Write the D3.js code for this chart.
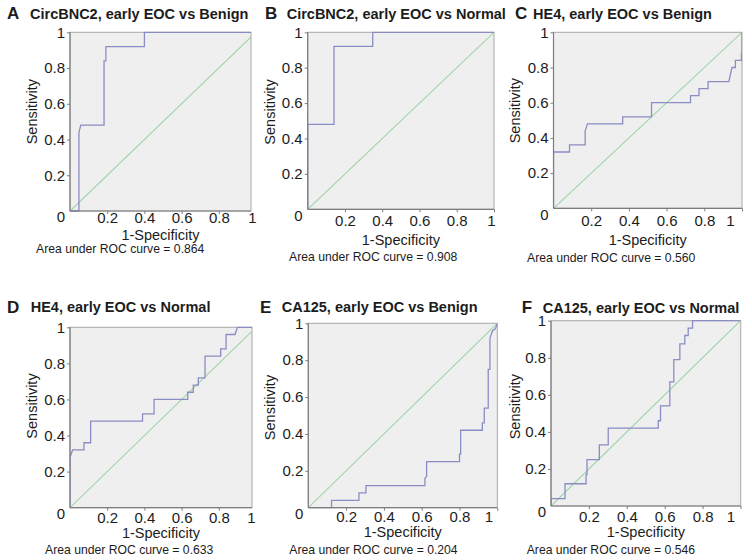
<!DOCTYPE html>
<html><head><meta charset="utf-8">
<script src="https://cdn.jsdelivr.net/npm/d3@7"></script>
<style>
body{margin:0;background:#fff}
svg{display:block}
text{font-family:"Liberation Sans",Arial,Helvetica,sans-serif;fill:#1c1c1c}
</style>
</head><body>
<svg id="chart" width="752" height="560"></svg>
<script>
// ---------------- data ----------------
const panelLetters = ["A", "B", "C", "D", "E", "F"];
const panelTitles = [
  "CircBNC2, early EOC vs Benign",
  "CircBNC2, early EOC vs Normal",
  "HE4, early EOC vs Benign",
  "HE4, early EOC vs Normal",
  "CA125, early EOC vs Benign",
  "CA125, early EOC vs Normal"
];
const aucValues = ["0.864", "0.908", "0.560", "0.633", "0.204", "0.546"];
const xTicks = [0.2, 0.4, 0.6, 0.8, 1];
const yTicks = [0.2, 0.4, 0.6, 0.8, 1];
const xAxisTitle = "1-Specificity";
const yAxisTitle = "Sensitivity";
const aucPrefix = "Area under ROC curve = ";

// ROC curves: [1-specificity, sensitivity]
const rocA = [[0,0],[0.048,0],[0.048,0.44],[0.058,0.48],[0.183,0.48],[0.183,0.84],[0.193,0.84],[0.193,0.92],[0.40,0.92],[0.40,1],[1,1]];
const rocB = [[0,0],[0,0.48],[0.141,0.48],[0.141,0.92],[0.349,0.92],[0.349,1],[1,1]];
const rocC = [[0,0],[0,0.32],[0.085,0.32],[0.085,0.36],[0.168,0.36],[0.168,0.44],[0.18,0.48],[0.367,0.48],[0.367,0.52],[0.52,0.52],[0.52,0.60],[0.727,0.60],[0.727,0.64],[0.772,0.64],[0.772,0.68],[0.82,0.68],[0.82,0.72],[0.93,0.72],[0.947,0.80],[0.965,0.80],[0.965,0.84],[0.997,0.84],[0.997,0.88],[1,0.88],[1,1]];
const rocD = [[0,0],[0,0.28],[0.014,0.32],[0.075,0.32],[0.075,0.36],[0.111,0.36],[0.111,0.48],[0.39,0.48],[0.39,0.52],[0.452,0.52],[0.452,0.60],[0.633,0.60],[0.633,0.64],[0.663,0.64],[0.663,0.68],[0.69,0.68],[0.69,0.72],[0.726,0.72],[0.726,0.84],[0.81,0.84],[0.81,0.88],[0.839,0.88],[0.839,0.96],[0.887,0.96],[0.90,1],[1,1]];
const rocE = [[0,0],[0.123,0],[0.123,0.04],[0.268,0.04],[0.268,0.08],[0.305,0.08],[0.305,0.12],[0.617,0.12],[0.617,0.16],[0.626,0.17],[0.626,0.25],[0.80,0.25],[0.80,0.29],[0.806,0.29],[0.806,0.42],[0.921,0.42],[0.921,0.46],[0.931,0.46],[0.931,0.54],[0.952,0.54],[0.952,0.75],[0.961,0.75],[0.961,0.92],[0.975,0.96],[0.99,0.97],[1,1]];
const rocF = [[0,0],[0,0.04],[0.074,0.04],[0.074,0.12],[0.185,0.12],[0.185,0.17],[0.19,0.17],[0.19,0.25],[0.255,0.25],[0.255,0.33],[0.302,0.33],[0.302,0.42],[0.566,0.42],[0.566,0.46],[0.578,0.46],[0.578,0.54],[0.627,0.54],[0.627,0.67],[0.648,0.67],[0.648,0.79],[0.68,0.79],[0.68,0.875],[0.706,0.875],[0.706,0.92],[0.724,0.92],[0.724,0.96],[0.747,0.96],[0.747,1],[1,1]];
const rocCurves = [rocA, rocB, rocC, rocD, rocE, rocF];
const chanceLine = [[0,0],[1,1]];

// ---------------- layout (pixels) ----------------
const layout = [
  {x0:70,    xr:251,   x1:256,   yt:32.3,  yb:211,   lx:7,    tx:30,    ty:18.5, sx:36.5,  sy:111.7, tickB:223,   specB:240,   ax:36,    aB:252.5, one:-4},
  {x0:307.7, xr:494,   x1:494,   yt:32.3,  yb:209.3, lx:265,  tx:286.7, ty:18.5, sx:275,   sy:112,   tickB:226,   specB:245,   ax:289,   aB:261,   one:-3},
  {x0:553.5, xr:742,   x1:742,   yt:32.3,  yb:208.3, lx:515,  tx:533,   ty:18.5, sx:519.5, sy:110.7, tickB:226,   specB:245,   ax:527,   aB:262,   one:-12},
  {x0:70,    xr:252,   x1:256,   yt:327.3, yb:507.7, lx:7,    tx:30.7,  ty:312,  sx:36.5,  sy:406,   tickB:523,   specB:537.5, ax:45,    aB:553.5, one:-5},
  {x0:308.3, xr:497.3, x1:497.3, yt:323.3, yb:507.7, lx:260,  tx:281.7, ty:312,  sx:275,   sy:407.5, tickB:522,   specB:537,   ax:289.3, aB:553.5, one:-9},
  {x0:551,   xr:740.7, x1:740.5, yt:320.7, yb:506,   lx:521.7,tx:542.7, ty:312.5,sx:519.5, sy:406.7, tickB:522,   specB:537,   ax:526.7, aB:553.5, one:-10}
];

const svg = d3.select("#chart");
const axisColor = "#7d7d7d", boxColor = "#a8a8a8", bgColor = "#efefef";
const curveColor = "#8a8dc3", chanceColor = "#9fd3a6";
const tickFont = 15;

layout.forEach((L, i) => {
  const g = svg.append("g");
  const x = d3.scaleLinear().domain([0, 1]).range([L.x0, L.x1]);
  const y = d3.scaleLinear().domain([0, 1]).range([L.yb, L.yt]);

  // plot box
  g.append("rect").attr("x", L.x0).attr("y", L.yt)
    .attr("width", L.xr - L.x0).attr("height", L.yb - L.yt)
    .attr("fill", bgColor).attr("stroke", boxColor).attr("stroke-width", 1);

  const clipId = "clip" + i;
  svg.append("clipPath").attr("id", clipId).append("rect")
    .attr("x", L.x0).attr("y", L.yt - 1).attr("width", L.xr - L.x0).attr("height", L.yb - L.yt + 2);

  const line = d3.line().x(d => x(d[0])).y(d => y(d[1]));
  const pg = g.append("g").attr("clip-path", `url(#${clipId})`);
  pg.append("path").attr("d", line(chanceLine)).attr("fill", "none")
    .attr("stroke", chanceColor).attr("stroke-width", 1.1);
  pg.append("path").attr("d", line(rocCurves[i])).attr("fill", "none")
    .attr("stroke", curveColor).attr("stroke-width", 1.3);

  // x axis
  const xa = g.append("g").attr("transform", `translate(0,${L.yb})`)
    .call(d3.axisBottom(x).tickValues(xTicks).tickSize(3).tickFormat(d3.format("~g")));
  xa.select(".domain").remove();
  xa.selectAll(".tick line").attr("stroke", axisColor)
    .attr("display", d => x(d) > L.xr + 0.5 ? "none" : null);
  xa.selectAll(".tick text").attr("dy", null).attr("y", L.tickB - L.yb)
    .attr("dx", d => d === 1 ? L.one : 0)
    .attr("font-size", tickFont).attr("font-family", null).attr("fill", "#1c1c1c");

  // y axis
  const ya = g.append("g").attr("transform", `translate(${L.x0},0)`)
    .call(d3.axisLeft(y).tickValues(yTicks).tickSize(3).tickPadding(2).tickFormat(d3.format("~g")));
  ya.select(".domain").remove();
  ya.selectAll(".tick line").attr("stroke", axisColor);
  ya.selectAll(".tick text").attr("font-size", tickFont).attr("font-family", null).attr("fill", "#1c1c1c");

  // axis lines (left and bottom, darker)
  g.append("line").attr("x1", L.x0).attr("x2", L.x0).attr("y1", L.yt).attr("y2", L.yb)
    .attr("stroke", axisColor).attr("stroke-width", 1.2);
  g.append("line").attr("x1", L.x0).attr("x2", L.xr).attr("y1", L.yb).attr("y2", L.yb)
    .attr("stroke", axisColor).attr("stroke-width", 1.2);

  // origin label
  g.append("text").attr("x", L.x0 - 5).attr("y", L.yb + 6).attr("dy", "0.35em")
    .attr("text-anchor", "end").attr("font-size", tickFont).text("0");

  // titles
  g.append("text").attr("x", L.lx).attr("y", L.ty + 0.5).attr("font-size", 17)
    .attr("font-weight", "bold").text(panelLetters[i]);
  g.append("text").attr("x", L.tx).attr("y", L.ty).attr("font-size", 14.5)
    .attr("font-weight", "bold").text(panelTitles[i]);

  // axis titles
  g.append("text").attr("x", (L.x0 + L.xr) / 2).attr("y", L.specB)
    .attr("text-anchor", "middle").attr("font-size", 14.5).text(xAxisTitle);
  g.append("text").attr("transform", `translate(${L.sx},${L.sy}) rotate(-90)`)
    .attr("text-anchor", "middle").attr("font-size", 14.5).text(yAxisTitle);

  // AUC
  g.append("text").attr("x", L.ax).attr("y", L.aB).attr("font-size", 12.2)
    .text(aucPrefix + aucValues[i]);
});
</script>
</body></html>
